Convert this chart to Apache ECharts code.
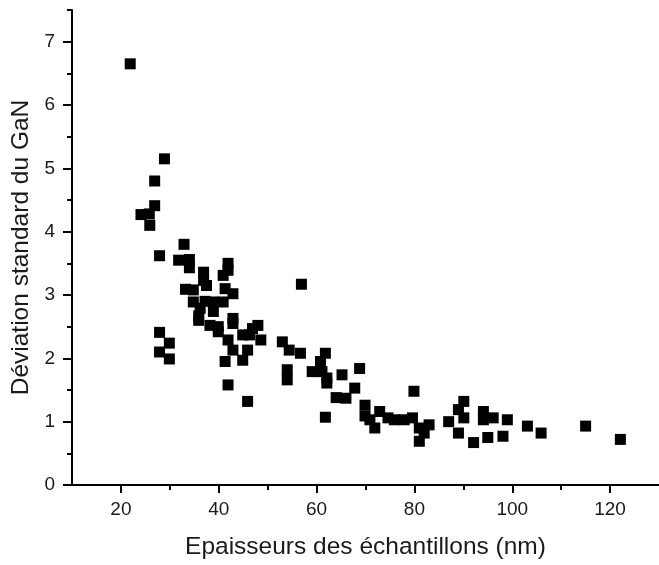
<!DOCTYPE html>
<html>
<head>
<meta charset="utf-8">
<script src="https://cdn.jsdelivr.net/npm/echarts@6/dist/echarts.min.js"></script>
<style>
html,body{margin:0;padding:0;background:#fff;}
#chart{width:659px;height:565px;}
</style>
</head>
<body>
<div id="chart"></div>
<script>
const thickness = [21.9,28.9,26.9,26.9,24.1,25.8,25.9,27.9,32.9,31.8,34.0,34.0,41.9,41.9,36.9,36.9,40.9,33.2,34.8,37.5,41.3,42.9,34.8,37.2,38.9,40.9,36.2,38.9,35.9,42.9,38.2,39.9,27.9,29.9,27.9,29.9,35.9,39.9,42.9,41.9,42.9,41.3,44.9,45.9,44.9,46.9,41.9,45.9,48.0,46.3,48.6,53.0,54.4,56.7,54.0,54.0,61.8,60.8,59.1,61.1,62.1,62.1,65.2,68.8,67.8,64.0,66.0,61.8,69.9,69.9,70.9,71.9,72.9,74.6,75.9,77.9,79.9,79.6,81.0,82.0,81.0,83.0,87.0,89.0,89.0,90.1,90.1,92.1,94.1,94.1,96.1,95.0,98.1,99.0,103.1,105.9,115.0,122.1,56.9];
const deviation = [6.65,5.15,4.80,4.41,4.27,4.28,4.10,3.62,3.80,3.55,3.56,3.43,3.50,3.39,3.36,3.23,3.31,3.09,3.08,3.15,3.10,3.02,2.89,2.90,2.89,2.89,2.79,2.74,2.67,2.63,2.52,2.50,2.41,2.24,2.10,1.99,2.60,2.42,2.55,2.29,2.13,1.95,2.37,2.13,1.97,2.47,1.58,1.32,2.52,2.37,2.29,2.26,2.13,2.08,1.82,1.66,2.08,1.95,1.79,1.79,1.69,1.61,1.74,1.84,1.53,1.38,1.37,1.07,1.26,1.09,1.03,0.90,1.16,1.06,1.03,1.03,1.48,1.06,0.90,0.82,0.69,0.95,1.00,0.82,1.19,1.32,1.06,0.67,1.16,1.03,1.06,0.75,0.77,1.03,0.93,0.82,0.93,0.72,3.17];
const xMajorTicks = [20,40,60,80,100,120];
const xMinorTicks = [30,50,70,90,110];
const yMajorTicks = [0,1,2,3,4,5,6,7];
const yMinorTicks = [0.5,1.5,2.5,3.5,4.5,5.5,6.5,7.5];

const points = thickness.map((x,i)=>[x, deviation[i]]);
const font = '"Liberation Sans", Arial, sans-serif';
const axisLine = {show:true, onZero:false, lineStyle:{color:'#000', width:2}};

const chart = echarts.init(document.getElementById('chart'), null, {renderer:'canvas'});
chart.setOption({
  animation:false,
  backgroundColor:'#fff',
  grid:{left:72, right:-7.5, top:10, bottom:78, containLabel:false},
  xAxis:[{
    type:'value', min:10, max:130, interval:10,
    axisLine:axisLine,
    axisTick:{show:true, customValues:xMajorTicks, length:8, lineStyle:{color:'#000', width:2}},
    axisLabel:{show:true, customValues:xMajorTicks, margin:15, color:'#1a1a1a', fontSize:19, fontFamily:font},
    splitLine:{show:false},
    name:'Epaisseurs des échantillons (nm)', nameLocation:'middle', nameGap:50,
    nameTextStyle:{color:'#1a1a1a', fontSize:24.5, fontFamily:font}
  },{
    type:'value', min:10, max:130, interval:10, position:'bottom',
    axisLine:{show:false},
    axisTick:{show:true, customValues:xMinorTicks, length:5, lineStyle:{color:'#000', width:2}},
    axisLabel:{show:false}, splitLine:{show:false}
  }],
  yAxis:[{
    type:'value', min:0, max:7.5, interval:1,
    axisLine:axisLine,
    axisTick:{show:true, customValues:yMajorTicks, length:9, lineStyle:{color:'#000', width:2}},
    axisLabel:{show:true, customValues:yMajorTicks, margin:17, color:'#1a1a1a', fontSize:19, fontFamily:font},
    splitLine:{show:false},
    name:'Déviation standard du GaN', nameLocation:'middle', nameGap:27,
    nameTextStyle:{color:'#1a1a1a', fontSize:24.5, fontFamily:font}
  },{
    type:'value', min:0, max:7.5, interval:1, position:'left',
    axisLine:{show:false},
    axisTick:{show:true, customValues:yMinorTicks, length:5, lineStyle:{color:'#000', width:2}},
    axisLabel:{show:false}, splitLine:{show:false}
  }],
  series:[{
    type:'scatter', xAxisIndex:0, yAxisIndex:0,
    symbol:'rect', symbolSize:11,
    itemStyle:{color:'#000', opacity:1},
    data:points
  }]
});
</script>
</body>
</html>
